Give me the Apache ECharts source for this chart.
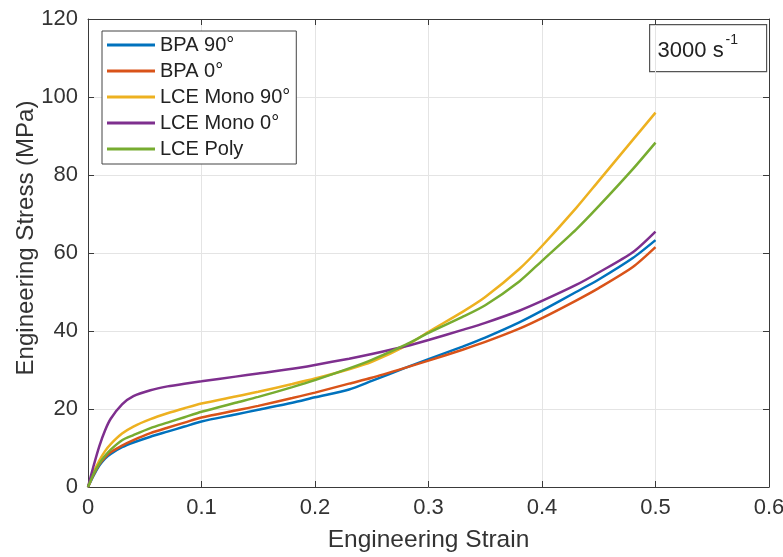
<!DOCTYPE html>
<html>
<head>
<meta charset="utf-8">
<script src="https://cdn.jsdelivr.net/npm/echarts@6/dist/echarts.min.js"></script>
<style>html,body{margin:0;padding:0;background:#fff}#c{width:783px;height:557px}</style>
</head>
<body>
<div id="c"></div>
<script>
const strain = [0, 0.005, 0.01, 0.015, 0.02, 0.03, 0.04, 0.055, 0.07, 0.085, 0.1, 0.13, 0.15, 0.18, 0.2, 0.23, 0.25, 0.28, 0.3, 0.33, 0.35, 0.38, 0.4, 0.43, 0.45, 0.48, 0.5];
const bpa90 = [0, 3, 5.5, 7.3, 8.5, 10.2, 11.4, 12.9, 14.2, 15.5, 16.8, 18.6, 19.8, 21.6, 23, 25, 27.2, 30.6, 32.8, 36, 38.3, 42.2, 45.2, 50, 53.2, 58.7, 63.3];
const bpa0 = [0, 3.2, 5.8, 7.6, 8.9, 10.6, 12, 13.8, 15.2, 16.5, 17.8, 19.6, 20.8, 22.8, 24.2, 26.5, 28, 30.6, 32.4, 35.2, 37.2, 40.6, 43.3, 47.8, 51, 56.4, 61.5];
const lceMono90 = [0, 3.8, 6.8, 9.2, 11, 13.7, 15.5, 17.4, 18.9, 20.2, 21.4, 23.2, 24.4, 26.4, 27.8, 30.2, 32.1, 36.2, 39.8, 44.9, 48.7, 55.9, 61.8, 71.5, 78.5, 89, 96];
const lceMono0 = [0, 5.5, 10.5, 14.5, 17.5, 21.2, 23.3, 24.8, 25.8, 26.5, 27.1, 28.3, 29.1, 30.3, 31.3, 32.9, 34.1, 36.1, 37.7, 40.3, 42.1, 45.2, 47.7, 51.8, 55, 60.2, 65.5];
const lcePoly = [0, 3.4, 6, 8, 9.6, 12, 13.3, 15.1, 16.5, 17.9, 19.3, 21.6, 23.1, 25.6, 27.4, 30.4, 32.6, 36.5, 39.5, 43.6, 46.6, 52.7, 58, 66, 72, 81.5, 88.3];
const seriesNames = ['BPA 90°', 'BPA 0°', 'LCE Mono 90°', 'LCE Mono 0°', 'LCE Poly'];
const seriesValues = [bpa90, bpa0, lceMono90, lceMono0, lcePoly];
const colors = ['#0072BD', '#D95319', '#EDB120', '#7E2F8E', '#77AC30'];
const xTicks = [0, 0.1, 0.2, 0.3, 0.4, 0.5, 0.6];
const yTicks = [0, 20, 40, 60, 80, 100, 120];
const rateText = '3000 s';
const rateExp = '-1';

const FONT = 'Liberation Sans, Arial, sans-serif';
const chart = echarts.init(document.getElementById('c'));
const axisLine = {show: true, onZero: false, lineStyle: {color: '#3a3a3a', width: 1}};
const axisTick = {show: true, inside: true, length: 6, lineStyle: {color: '#3a3a3a'}};
const splitLine = {show: true, lineStyle: {color: '#e4e4e4', width: 1}};
chart.setOption({
  animation: false,
  color: colors,
  grid: {left: 88, right: 14, top: 19, bottom: 70, containLabel: false, outerBoundsMode: 'none'},
  legend: {
    orient: 'vertical', left: 102, top: 31,
    data: seriesNames.map(n => ({name: n, icon: 'rect'})),
    backgroundColor: '#fff',
    borderColor: '#444', borderWidth: 1,
    padding: [4, 6, 5, 5],
    itemWidth: 48, itemHeight: 3, itemGap: 6,
    textStyle: {fontFamily: FONT, fontSize: 20, color: '#222', lineHeight: 20}
  },
  xAxis: [{
    type: 'value', min: 0, max: 0.6, interval: 0.1,
    name: 'Engineering Strain', nameLocation: 'middle', nameGap: 41, nameMoveOverlap: false,
    nameTextStyle: {fontFamily: FONT, fontSize: 24.5, color: '#333'},
    axisLabel: {fontFamily: FONT, fontSize: 22, color: '#333', margin: 10,
      formatter: v => xTicks.includes(+v.toFixed(1)) ? (+v.toFixed(1)).toString() : ''},
    axisLine, axisTick, splitLine
  }, {
    type: 'value', min: 0, max: 0.6, interval: 0.1, position: 'top',
    axisLabel: {show: false}, splitLine: {show: false}, axisLine, axisTick
  }],
  yAxis: [{
    type: 'value', min: 0, max: 120, interval: 20,
    name: 'Engineering Stress (MPa)', nameLocation: 'middle', nameGap: 50, nameMoveOverlap: false,
    nameTextStyle: {fontFamily: FONT, fontSize: 24, color: '#333', padding: [0, 0, 0, 30]},
    axisLabel: {fontFamily: FONT, fontSize: 22, color: '#333', margin: 10,
      formatter: v => yTicks.includes(v) ? String(v) : ''},
    axisLine, axisTick, splitLine
  }, {
    type: 'value', min: 0, max: 120, interval: 20, position: 'right',
    axisLabel: {show: false}, splitLine: {show: false}, axisLine, axisTick
  }],
  series: seriesNames.map((n, i) => ({
    name: n, type: 'line', symbol: 'none', smooth: 0.25,
    lineStyle: {width: 2.5, color: colors[i]},
    itemStyle: {color: colors[i]},
    data: strain.map((s, j) => [s, seriesValues[i][j]])
  })),
  graphic: [{
    type: 'group', left: 649, top: 24, children: [
      {type: 'rect', shape: {x: 0, y: 0, width: 117, height: 47},
        style: {fill: '#fff', stroke: '#555', lineWidth: 1.2}},
      {type: 'text', x: 8, y: 26,
        style: {text: rateText, fontFamily: FONT, fontSize: 22, fill: '#222', textVerticalAlign: 'middle'}},
      {type: 'text', x: 76, y: 16,
        style: {text: rateExp, fontFamily: FONT, fontSize: 14, fill: '#222', textVerticalAlign: 'middle'}}
    ]
  }]
});
</script>
</body>
</html>
